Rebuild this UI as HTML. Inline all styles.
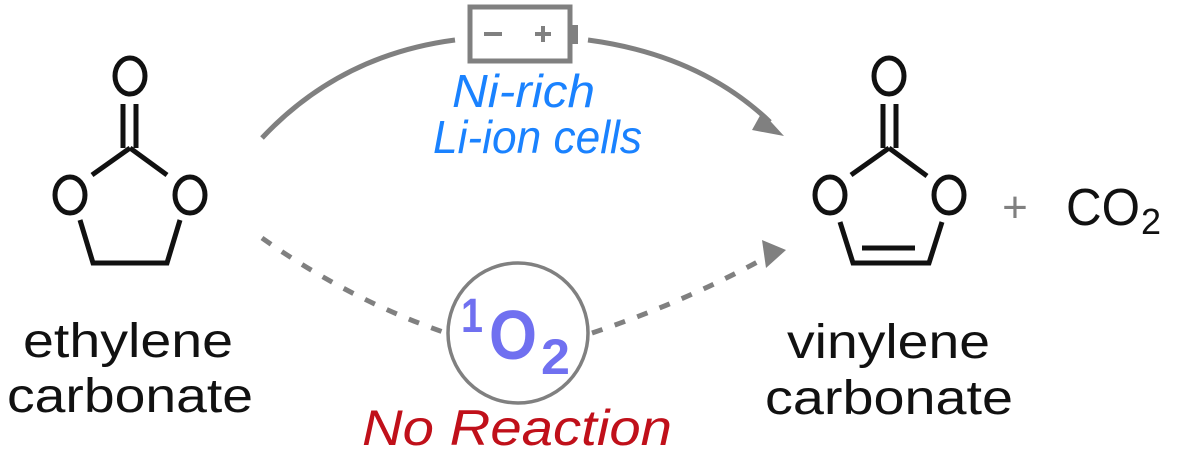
<!DOCTYPE html>
<html><head><style>
html,body{margin:0;padding:0;background:#fff;}
svg{display:block;}
text{font-family:"Liberation Sans",sans-serif;}
</style></head><body>
<svg width="1177" height="455" viewBox="0 0 1177 455">
<!-- ethylene carbonate -->
<g stroke="#111" stroke-width="5" fill="none">
<ellipse cx="130" cy="76" rx="15" ry="18"/>
<line x1="123" y1="104" x2="123" y2="148"/><line x1="136" y1="104" x2="136" y2="148"/>
<line x1="130" y1="148" x2="92" y2="175"/><line x1="130" y1="148" x2="167" y2="175"/>
<ellipse cx="70" cy="195" rx="15" ry="18"/><ellipse cx="190" cy="195" rx="15" ry="18"/>
<polyline points="80,220 93,263 167,263 180,220"/>
</g>
<!-- vinylene carbonate -->
<g stroke="#111" stroke-width="5" fill="none">
<ellipse cx="889" cy="76" rx="15" ry="18"/>
<line x1="883" y1="104" x2="883" y2="148"/><line x1="896" y1="104" x2="896" y2="148"/>
<line x1="889" y1="148" x2="851" y2="175"/><line x1="889" y1="148" x2="927" y2="176"/>
<ellipse cx="830" cy="195" rx="15" ry="18"/><ellipse cx="949" cy="195" rx="15" ry="18"/>
<polyline points="840,222 853,263 929,263 942,222"/>
<line x1="862" y1="248" x2="915" y2="248"/>
</g>
<text x="1015" y="222" font-size="44" fill="#808080" text-anchor="middle">+</text>
<text x="1066" y="225" font-size="52" fill="#111" textLength="74" lengthAdjust="spacingAndGlyphs">CO</text>
<text x="1141" y="234" font-size="36" fill="#111">2</text>
<!-- top arrow -->
<path d="M262,138 Q340,55 455,40" stroke="#808080" stroke-width="5" fill="none"/>
<path d="M588,40 Q700,55 770,122" stroke="#808080" stroke-width="5" fill="none"/>
<path d="M762,112 L784,136 L752,130 z" fill="#808080"/>
<!-- battery -->
<rect x="470" y="7" width="100" height="54" stroke="#808080" stroke-width="5" fill="#fff"/>
<rect x="570" y="25" width="8" height="19" fill="#808080"/>
<line x1="484" y1="34" x2="502" y2="34" stroke="#808080" stroke-width="4"/>
<line x1="535" y1="34" x2="551" y2="34" stroke="#808080" stroke-width="4"/>
<line x1="543" y1="26" x2="543" y2="42" stroke="#808080" stroke-width="4"/>
<text x="452" y="107" font-size="46" font-style="italic" fill="#1a82ff" textLength="143" lengthAdjust="spacingAndGlyphs">Ni-rich</text>
<text x="433" y="153" font-size="46" font-style="italic" fill="#1a82ff" textLength="209" lengthAdjust="spacingAndGlyphs">Li-ion cells</text>
<!-- dashed -->
<path d="M262,238 Q350,300 446,333" stroke="#808080" stroke-width="5" fill="none" stroke-dasharray="11,13"/>
<path d="M592,333 Q690,300 770,255" stroke="#808080" stroke-width="5" fill="none" stroke-dasharray="11,13"/>
<path d="M762,240 L786,250 L766,268 z" fill="#808080"/>
<circle cx="518" cy="333" r="70" stroke="#808080" stroke-width="3.5" fill="none"/>
<text x="461" y="332" font-size="48" font-weight="bold" fill="#7070f0" textLength="22" lengthAdjust="spacingAndGlyphs">1</text>
<text x="489" y="359" font-size="70" font-weight="bold" fill="#7070f0" textLength="48" lengthAdjust="spacingAndGlyphs">O</text>
<text x="541" y="374" font-size="50" font-weight="bold" fill="#7070f0" textLength="29" lengthAdjust="spacingAndGlyphs">2</text>
<text x="362" y="445" font-size="50" font-style="italic" fill="#c0101a" textLength="310" lengthAdjust="spacingAndGlyphs">No Reaction</text>
<!-- labels -->
<text x="23" y="357" font-size="48" fill="#111" textLength="210" lengthAdjust="spacingAndGlyphs">ethylene</text>
<text x="7" y="412" font-size="48" fill="#111" textLength="246" lengthAdjust="spacingAndGlyphs">carbonate</text>
<text x="787" y="358" font-size="48" fill="#111" textLength="203" lengthAdjust="spacingAndGlyphs">vinylene</text>
<text x="765" y="414" font-size="48" fill="#111" textLength="248" lengthAdjust="spacingAndGlyphs">carbonate</text>
</svg>
</body></html>
